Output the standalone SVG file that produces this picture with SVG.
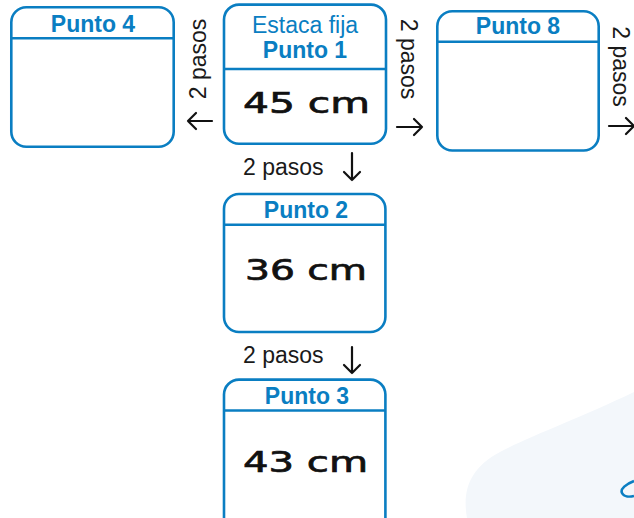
<svg xmlns="http://www.w3.org/2000/svg" width="634" height="518" viewBox="0 0 634 518">
<style>
.box{fill:#fff;stroke:#0a7ec2;stroke-width:2.6}
.hdr{stroke:#0a7ec2;stroke-width:2.6}
.ttl{font-family:"Liberation Sans",Arial,sans-serif;font-size:23px;font-weight:bold;fill:#0a7ec2;text-anchor:middle}
.sub{font-family:"Liberation Sans",Arial,sans-serif;font-size:23px;fill:#0a7ec2;text-anchor:middle}
.lbl{font-family:"Liberation Sans",Arial,sans-serif;font-size:23px;fill:#1a1a1a}
.val{font-family:"DejaVu Sans",sans-serif;font-size:28px;fill:#111;stroke:#111;stroke-width:0.7}
.arr{fill:none;stroke:#111;stroke-width:2.2;stroke-linecap:round;stroke-linejoin:round}
</style>
<rect width="634" height="518" fill="#fff"/>
<path d="M467 518 C462 490 470 468 500 452 C530 436 580 418 634 392 L634 518 Z" fill="#f3f7fb"/>
<path d="M634 481 C626 484 620 489 622 493 C624 497 630 497 634 496" fill="none" stroke="#0a7ec2" stroke-width="2.6"/>

<g id="punto4">
<rect class="box" x="11.3" y="7.3" width="162.4" height="139.4" rx="15"/>
<line class="hdr" x1="11.3" y1="38.3" x2="173.7" y2="38.3"/>
<text class="ttl" x="93" y="31.5">Punto 4</text>
</g>

<g id="punto1">
<rect class="box" x="224" y="4.6" width="162" height="139.2" rx="15"/>
<line class="hdr" x1="224" y1="69" x2="386" y2="69"/>
<text class="sub" x="305" y="33">Estaca fija</text>
<text class="ttl" x="305" y="58">Punto 1</text>
<text class="val" x="243" y="113" textLength="127" lengthAdjust="spacingAndGlyphs">45 cm</text>
</g>

<g id="punto8">
<rect class="box" x="437.3" y="11.3" width="161.4" height="139.2" rx="15"/>
<line class="hdr" x1="437.3" y1="41.7" x2="598.7" y2="41.7"/>
<text class="ttl" x="518" y="34">Punto 8</text>
</g>

<g id="punto2">
<rect class="box" x="224" y="194" width="161.4" height="138" rx="15"/>
<line class="hdr" x1="224" y1="224.7" x2="385.4" y2="224.7"/>
<text class="ttl" x="306" y="217.5">Punto 2</text>
<text class="val" x="245" y="280" textLength="122" lengthAdjust="spacingAndGlyphs">36 cm</text>
</g>

<g id="punto3">
<rect class="box" x="224" y="379.6" width="161.4" height="160" rx="15"/>
<line class="hdr" x1="224" y1="410.5" x2="385.4" y2="410.5"/>
<text class="ttl" x="307" y="403.5">Punto 3</text>
<text class="val" x="243" y="472" textLength="125" lengthAdjust="spacingAndGlyphs">43 cm</text>
</g>

<g id="connectors">
<text class="lbl" text-anchor="middle" transform="translate(206,59) rotate(-90)">2 pasos</text>
<path class="arr" d="M212 121 H188 M196 113 L188 121 L196 129"/>
<text class="lbl" text-anchor="middle" transform="translate(401,59) rotate(90)">2 pasos</text>
<path class="arr" d="M397 127 H422 M414 119 L422 127 L414 135"/>
<text class="lbl" text-anchor="middle" transform="translate(613,66.5) rotate(90)">2 pasos</text>
<path class="arr" d="M609 126 H634 M626 118 L634 126 L626 134"/>
<text class="lbl" x="243" y="175">2 pasos</text>
<path class="arr" d="M352 153 V180 M344 172 L352 180 L360 172"/>
<text class="lbl" x="243" y="363">2 pasos</text>
<path class="arr" d="M352 347 V373 M344 365 L352 373 L360 365"/>
</g>
</svg>
